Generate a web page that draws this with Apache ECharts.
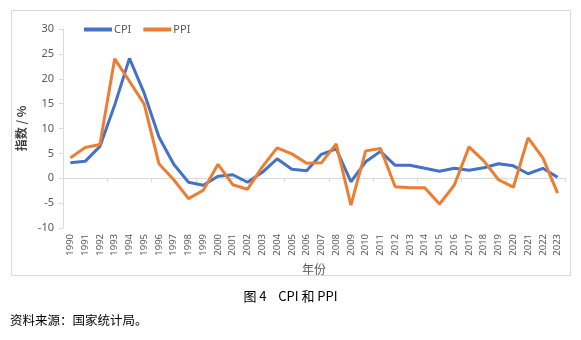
<!DOCTYPE html>
<html><head><meta charset="utf-8">
<script src="https://cdn.jsdelivr.net/npm/echarts@6/dist/echarts.min.js"></script>
<style>html,body{margin:0;padding:0;background:#fff}#c{width:581px;height:340px}</style>
</head><body><div id="c"></div>
<script>
const years = ['1990','1991','1992','1993','1994','1995','1996','1997','1998','1999','2000','2001','2002','2003','2004','2005','2006','2007','2008','2009','2010','2011','2012','2013','2014','2015','2016','2017','2018','2019','2020','2021','2022','2023'];
const cpi = [3.1,3.4,6.4,14.7,24.1,17.1,8.3,2.8,-0.8,-1.4,0.4,0.7,-0.8,1.2,3.9,1.8,1.5,4.8,5.9,-0.7,3.3,5.4,2.6,2.6,2.0,1.4,2.0,1.6,2.1,2.9,2.5,0.9,2.0,0.2];
const ppi = [4.1,6.2,6.8,24.0,19.5,14.9,2.9,-0.3,-4.1,-2.4,2.8,-1.3,-2.2,2.3,6.1,4.9,3.0,3.1,6.9,-5.4,5.5,6.0,-1.7,-1.9,-1.9,-5.2,-1.4,6.3,3.5,-0.3,-1.8,8.1,4.1,-3.0];
const yTicks = {min:-10, max:30, interval:5};
const chart = echarts.init(document.getElementById('c'), null, {renderer:'canvas'});
const lbl = '#595959';
chart.setOption({
  animation:false,
  textStyle:{fontFamily:'"Noto Sans", "Noto Sans CJK SC", sans-serif'},
  grid:{left:63, right:16, top:29, bottom:112},
  legend:{left:79, top:19, itemWidth:28, itemHeight:4, itemGap:12, icon:'rect',
    textStyle:{fontSize:11, color:lbl, padding:[0,0,0,-3]}, data:['CPI','PPI']},
  xAxis:[
    {type:'category', data:years, boundaryGap:true,
     axisLine:{show:false, onZero:false}, axisTick:{show:false},
     axisLabel:{rotate:90, fontSize:9.5, color:lbl, margin:6, interval:0},
     name:'年份', nameLocation:'middle', nameGap:33,
     nameTextStyle:{fontSize:12, color:lbl, fontFamily:'"Noto Sans CJK SC", sans-serif'}},
    {type:'category', data:years, boundaryGap:true, position:'bottom',
     axisLine:{show:true, onZero:true, lineStyle:{color:'#D9D9D9', width:1}},
     axisTick:{show:true, length:4, lineStyle:{color:'#D9D9D9'}},
     axisLabel:{show:false}}
  ],
  yAxis:{type:'value', min:yTicks.min, max:yTicks.max, interval:yTicks.interval,
    axisLine:{show:true, lineStyle:{color:'#D9D9D9'}},
    axisTick:{show:true, length:4, lineStyle:{color:'#D9D9D9'}},
    splitLine:{show:false},
    axisLabel:{fontSize:11, color:lbl, margin:9},
    name:'指数 / %', nameLocation:'middle', nameGap:33, nameRotate:90,
    nameTextStyle:{fontSize:12, color:'#404040', fontWeight:'bold', fontFamily:'"Noto Sans CJK SC", sans-serif'}},
  series:[
    {name:'CPI', type:'line', data:cpi, symbol:'none', xAxisIndex:0,
     lineStyle:{width:3, color:'#4472C4'}, itemStyle:{color:'#4472C4'}},
    {name:'PPI', type:'line', data:ppi, symbol:'none', xAxisIndex:0,
     lineStyle:{width:3, color:'#ED7D31'}, itemStyle:{color:'#ED7D31'}}
  ],
  graphic:[
    {type:'rect', shape:{x:11.5, y:10.5, width:559, height:265}, style:{fill:'none', stroke:'#D9D9D9', lineWidth:1}, z:-1},
    {type:'text', left:'center', top:290, style:{text:'图 4    CPI 和 PPI', fontSize:13, fill:'#000', fontFamily:'"Noto Sans CJK SC", serif'}},
    {type:'text', left:10, top:314, style:{text:'资料来源：国家统计局。', fontSize:12.5, fill:'#000', fontFamily:'"Noto Sans CJK SC", serif'}}
  ]
});
</script></body></html>
